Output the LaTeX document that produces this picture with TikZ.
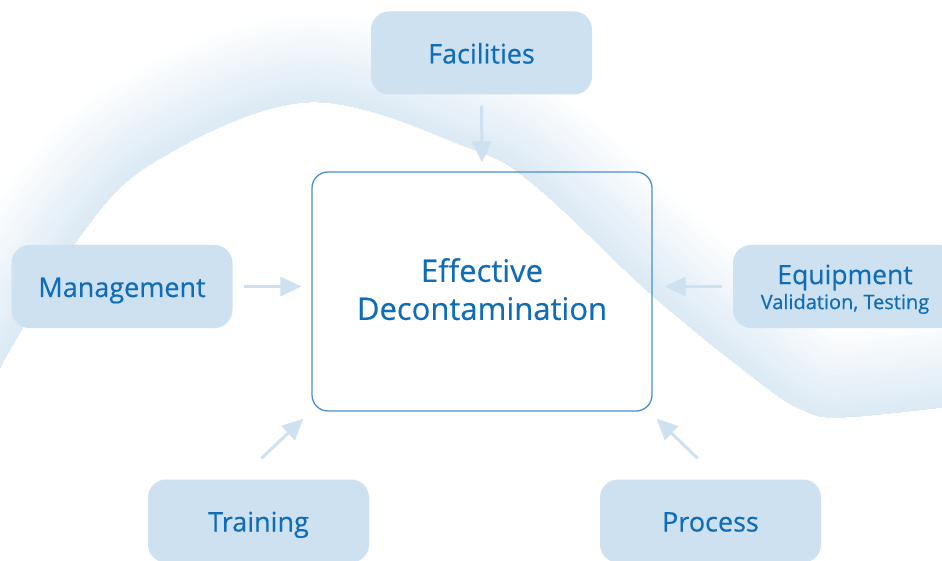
\documentclass[tikz,border=0pt]{standalone}
\usepackage{fontspec}
\setmainfont{Open Sans}[FakeBold=0.35]
\usetikzlibrary{arrows.meta}
\definecolor{boxblue}{HTML}{CDE1F0}
\definecolor{txtblue}{HTML}{0F6CB6}
\definecolor{edgeblue}{HTML}{4A8FCF}
\definecolor{wavecol}{HTML}{C8DEEF}
\begin{document}
\begin{tikzpicture}[x=1pt,y=-1pt,
  lbase/.style={fill=boxblue, rounded corners=18pt, minimum width=221pt, minimum height=83pt,
    text=txtblue, font=\fontsize{27}{32}\selectfont, align=center, inner sep=0pt},
  lbox/.style={lbase, text height=21pt, text depth=0pt},
  arr/.style={draw=boxblue, line width=3pt, -{Triangle[length=21pt,width=19pt]}}
]
\useasboundingbox (0,0) rectangle (942,561);
\clip (0,0) rectangle (942,561);
\fill[white] (0,0) rectangle (942,561);
% wave band: solid layers from light (outer) to darker (inner edge)
\begin{scope}
\clip plot[smooth,tension=0.6] coordinates {(-10,385) (77,240) (157,160) (310,102) (470,148) (537,187) (650,293) (753,377) (803,410) (845,417) (960,405)} -- (960,-50) -- (-20,-50) -- cycle;
\foreach \k in {30,29,...,1}{
  \pgfmathsetmacro\pct{65*(1-(3*\k-1.5)/90)}
  \pgfmathsetmacro\lw{6*\k}
  \draw[draw=wavecol!\pct!white, line width=\lw pt] plot[smooth,tension=0.6] coordinates {(-10,385) (77,240) (157,160) (310,102) (470,148) (537,187) (650,293) (753,377) (803,410) (845,417) (960,405)};
}
\end{scope}
% nodes
\node[lbox] (fac) at (481.5,53) {Facilities};
\node[lbox] (man) at (122,286.5) {Management};
\node[lbase, minimum width=224pt] (equ) at (845,286.5) {\rule{0pt}{25pt}{\fontsize{26.5}{30}\selectfont Equipment}\\[-7pt]{\fontsize{20}{22}\selectfont Validation, Testing}};
\node[lbox] (tra) at (258.5,521) {Training};
\node[lbox] (pro) at (710.5,521) {Process};
\node[draw=edgeblue, line width=1.3pt, rounded corners=16pt, minimum width=340pt, minimum height=239pt,
  text=txtblue, font=\fontsize{31}{38}\selectfont, align=center, inner sep=0pt] (ctr) at (482,291.5) {Effective\\Decontamination\rule[-5pt]{0pt}{5pt}};
% arrows
\draw[arr, shorten <=11pt, shorten >=9pt] (fac.south) -- (ctr.north);
\draw[arr, shorten <=11pt, shorten >=10pt] (man.east) -- (man.east -| ctr.west);
\draw[arr, shorten <=11pt, shorten >=12pt] (equ.west) -- (equ.west -| ctr.east);
\draw[arr] ([xshift=3pt,yshift=21pt]tra.north) -- ([xshift=-8pt,yshift=-7pt]ctr.south west);
\draw[arr] ([xshift=-13pt,yshift=21pt]pro.north) -- ([xshift=4pt,yshift=-7pt]ctr.south east);
\end{tikzpicture}
\end{document}
